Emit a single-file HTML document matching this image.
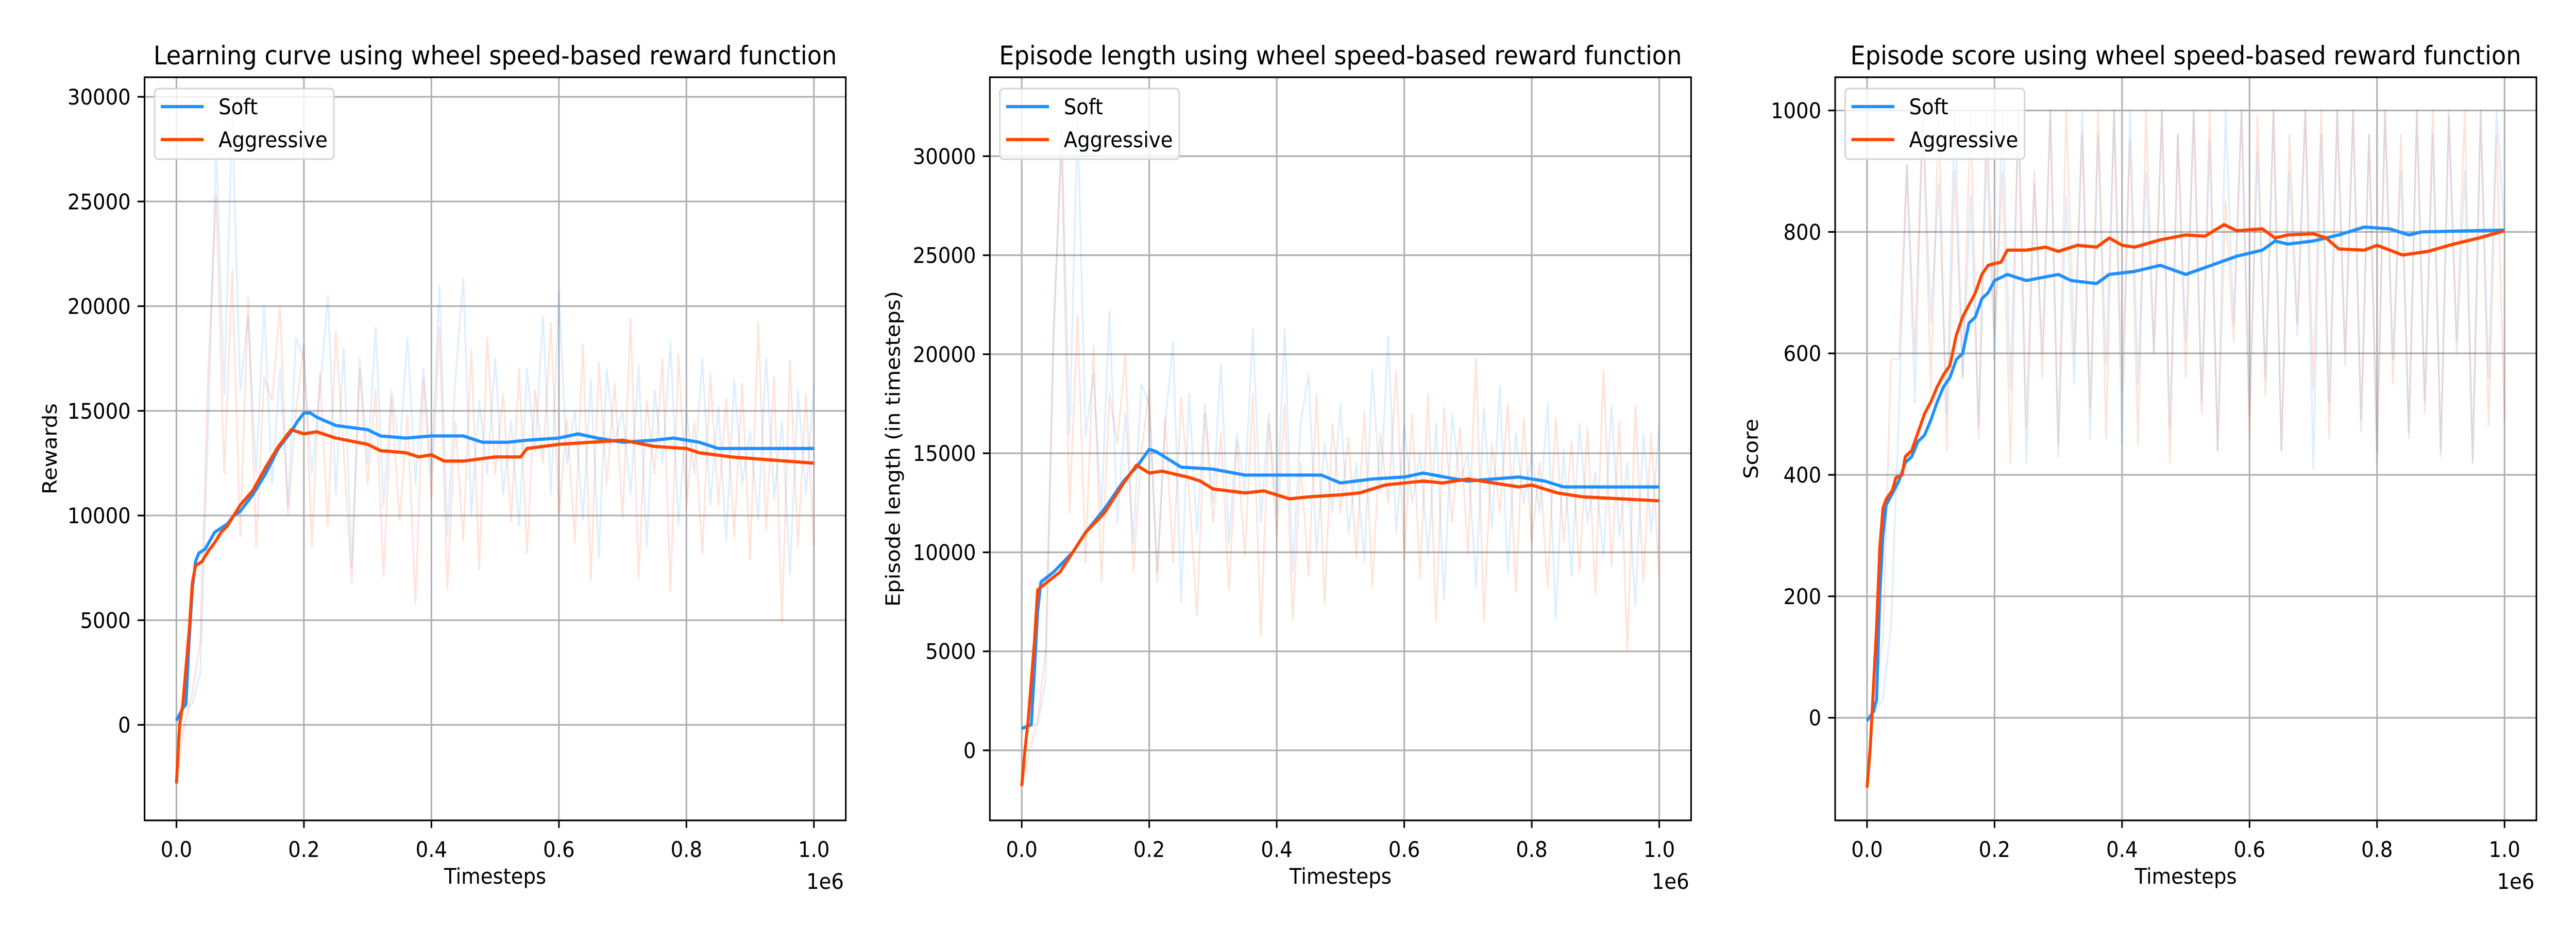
<!DOCTYPE html>
<html><head><meta charset="utf-8"><style>
html,body{margin:0;padding:0;background:#fff;width:100vw;height:100vh;overflow:hidden;}
svg{display:block;width:100vw;height:100vh;font-family:"DejaVu Sans","Liberation Sans",sans-serif;}
</style></head><body>
<svg id="fig" viewBox="0 0 5400 1800" preserveAspectRatio="none" xmlns="http://www.w3.org/2000/svg"></svg>
<script>
// ---------- data ----------
const xTickLabels = ["0.0","0.2","0.4","0.6","0.8","1.0"];
const xTickValues = [0,0.2,0.4,0.6,0.8,1.0];

const p1Titles = "Learning curve using wheel speed-based reward function";
const p2Titles = "Episode length using wheel speed-based reward function";
const p3Titles = "Episode score using wheel speed-based reward function";

const p1YTicks = [0,5000,10000,15000,20000,25000,30000];
const p2YTicks = [0,5000,10000,15000,20000,25000,30000];
const p3YTicks = [0,200,400,600,800,1000];

const p1SoftX = [0,0.01,0.015,0.02,0.025,0.03,0.035,0.045,0.06,0.08,0.09,0.1,0.12,0.14,0.16,0.18,0.19,0.2,0.21,0.22,0.25,0.3,0.32,0.36,0.4,0.45,0.48,0.52,0.55,0.6,0.63,0.66,0.7,0.75,0.78,0.82,0.85,1.0];
const p1SoftY = [200,800,1000,4000,6500,7800,8200,8400,9200,9600,10000,10200,11000,12000,13200,14000,14500,14900,14900,14700,14300,14100,13800,13700,13800,13800,13500,13500,13600,13700,13900,13700,13500,13600,13700,13500,13200,13200];
const p1AggX = [0,0.005,0.01,0.02,0.025,0.03,0.04,0.05,0.06,0.07,0.08,0.09,0.1,0.12,0.14,0.16,0.18,0.2,0.22,0.25,0.3,0.32,0.36,0.38,0.4,0.42,0.45,0.5,0.54,0.55,0.6,0.65,0.7,0.75,0.8,0.82,0.87,1.0];
const p1AggY = [-2800,0,1000,4500,6800,7600,7800,8300,8700,9200,9500,10000,10500,11200,12300,13300,14100,13900,14000,13700,13400,13100,13000,12800,12900,12600,12600,12800,12800,13200,13400,13500,13600,13300,13200,13000,12800,12500];

const p2SoftX = [0,0.015,0.02,0.025,0.03,0.05,0.08,0.1,0.13,0.16,0.18,0.2,0.21,0.25,0.3,0.35,0.4,0.47,0.5,0.55,0.6,0.63,0.68,0.7,0.78,0.82,0.85,1.0];
const p2SoftY = [1100,1300,4000,7000,8500,9000,10000,11000,12200,13600,14300,15200,15100,14300,14200,13900,13900,13900,13500,13700,13800,14000,13700,13600,13800,13600,13300,13300];
const p2AggX = [0,0.005,0.01,0.02,0.025,0.04,0.06,0.08,0.1,0.13,0.16,0.18,0.2,0.22,0.26,0.28,0.3,0.35,0.38,0.42,0.45,0.5,0.53,0.57,0.6,0.63,0.66,0.7,0.74,0.78,0.8,0.84,0.88,1.0];
const p2AggY = [-1800,0,1500,5500,8100,8500,9000,10000,11000,12000,13500,14400,14000,14100,13800,13600,13200,13000,13100,12700,12800,12900,13000,13400,13500,13600,13500,13700,13500,13300,13400,13000,12800,12600];

const p3SoftX = [0,0.01,0.015,0.02,0.025,0.03,0.04,0.05,0.06,0.07,0.08,0.09,0.1,0.11,0.12,0.13,0.14,0.15,0.16,0.17,0.18,0.19,0.2,0.22,0.25,0.3,0.32,0.36,0.38,0.42,0.46,0.5,0.54,0.58,0.62,0.64,0.66,0.7,0.74,0.78,0.82,0.85,0.87,1.0];
const p3SoftY = [-5,10,30,200,300,350,370,390,420,430,455,465,490,520,545,560,590,600,650,660,690,700,720,730,720,730,720,715,730,735,745,730,745,760,770,785,780,785,795,808,805,795,800,803];
const p3AggX = [0,0.005,0.01,0.015,0.02,0.025,0.03,0.04,0.045,0.055,0.06,0.07,0.08,0.09,0.1,0.11,0.12,0.13,0.14,0.15,0.16,0.17,0.18,0.19,0.2,0.21,0.22,0.25,0.28,0.3,0.33,0.36,0.38,0.4,0.42,0.46,0.5,0.53,0.56,0.58,0.62,0.64,0.66,0.7,0.72,0.74,0.78,0.8,0.84,0.88,0.92,0.96,1.0];
const p3AggY = [-115,-50,50,150,280,345,360,375,395,400,430,440,470,500,520,545,565,580,630,660,680,700,730,745,748,750,770,770,775,768,778,775,790,778,775,787,795,793,812,802,805,790,795,797,790,772,770,778,762,768,780,790,802];

const p1SoftRaw = [200,800,1000,2500,14500,27500,15800,29000,16000,19500,12000,20000,11500,17000,10500,18500,17500,12000,16000,20500,11000,18000,7500,17500,12500,19000,10500,16000,13000,18500,11500,17000,12000,21000,9000,16500,21300,10000,15500,12000,17500,11000,14500,9500,17000,13000,19500,11000,20700,12500,15000,9800,16500,8000,17000,13500,15000,11000,17200,8500,16000,12500,18300,9500,15000,12000,17500,10500,15200,8800,16500,11500,14000,9800,17500,10800,14500,7200,16000,11000,16300];
const p1AggRaw = [-2800,0,1500,4000,17000,25300,12000,21700,9000,20400,8500,16600,15500,20000,10000,15000,18200,8500,16800,9500,18800,13000,6800,17000,11500,16000,7100,15600,9800,14800,5800,16500,10800,19000,6500,14500,8800,17900,7400,18500,12000,15800,9700,17000,8200,16000,12500,19200,10000,14600,8700,18200,6900,17300,11500,16300,9900,19400,7000,15500,12000,17500,6400,17700,10500,14500,8200,16800,10500,15600,9000,16300,7900,19200,9300,16600,4900,17400,8500,15800,8500];
const p2SoftRaw = [1100,1200,1300,3500,20500,31600,16000,32000,15900,19000,12000,22200,11500,17000,10500,18500,17500,9000,16500,20600,7500,18000,11000,17500,12500,19500,10500,16000,13000,21300,11500,17000,12000,21300,9000,16500,19000,10000,15500,12000,17500,11000,14500,9500,19200,13000,20900,11000,16500,12500,15000,9800,16500,7600,17000,13500,15000,8300,17300,11200,18400,9000,16000,12500,15000,12000,17500,6600,15200,8800,16500,11500,14000,9800,17400,10800,14500,7300,16000,11000,16400];
const p2AggRaw = [-1800,0,1500,5000,21500,30500,12000,22000,9500,20400,8500,18000,15500,20000,9000,15000,18200,8500,16800,9500,17800,13000,6800,17000,11500,16000,8100,15600,9800,18000,5800,16500,10800,17500,6600,14500,8800,18000,7400,16500,12000,15800,9700,17100,8200,16000,12500,19200,9700,17000,8700,18000,6500,17300,11500,16300,9900,19800,6500,15500,12000,17500,8000,16800,10500,14500,8200,16800,10500,15600,9000,16300,7900,19200,9300,16600,5000,17400,8500,16000,8700];
const p3SoftRaw = [-5,10,30,150,500,910,520,1000,650,880,500,1000,560,860,480,930,590,1000,540,1000,420,880,600,1000,430,860,550,1000,460,960,580,1000,450,1000,550,900,600,1000,480,960,620,1000,520,950,440,1000,650,1000,500,930,560,1000,440,900,630,1000,410,960,520,1000,600,1000,470,960,420,1000,590,900,460,1000,520,960,440,1000,600,900,420,1000,560,1000,800];
const p3AggRaw = [-115,50,130,590,590,910,600,1000,540,1000,440,900,560,1000,460,1000,630,900,420,1000,480,900,560,1000,450,1000,600,960,510,1000,460,1000,540,950,450,1000,600,1000,420,960,560,1000,500,1000,440,850,620,1000,460,990,530,1000,440,960,650,1000,540,1000,460,1000,580,1000,490,960,440,1000,550,960,470,1000,500,1000,430,990,620,1000,420,1000,480,960,490];

// ---------- drawing ----------
const NS = "http://www.w3.org/2000/svg";
const svg = document.getElementById("fig");
function mk(tag, attrs, parent){ const e=document.createElementNS(NS,tag); for(const k in attrs) e.setAttribute(k,attrs[k]); (parent||svg).appendChild(e); return e; }

const TOP=150, BOT=1593;
const panels = [
  {key:"rewards", left:303, right:1773, ymin:-4563, ymax:30935, yticks:p1YTicks, title:p1Titles, ylabel:"Rewards", ylabelX:105,
   softX:p1SoftX, softY:p1SoftY, aggX:p1AggX, aggY:p1AggY, softRaw:p1SoftRaw, aggRaw:p1AggRaw},
  {key:"episode-length", left:2075, right:3545, ymin:-3536, ymax:33986, yticks:p2YTicks, title:p2Titles, ylabel:"Episode length (in timesteps)", ylabelX:1872,
   softX:p2SoftX, softY:p2SoftY, aggX:p2AggX, aggY:p2AggY, softRaw:p2SoftRaw, aggRaw:p2AggRaw},
  {key:"score", left:3847, right:5317, ymin:-169, ymax:1054.7, yticks:p3YTicks, title:p3Titles, ylabel:"Score", ylabelX:3671,
   softX:p3SoftX, softY:p3SoftY, aggX:p3AggX, aggY:p3AggY, softRaw:p3SoftRaw, aggRaw:p3AggRaw}
];
const SOFT="#1e90ff", AGG="#ff4500";

panels.forEach(p=>{
  const g = mk("g",{});
  
  
  const xs = v => p.left + (v+0.05)/1.1*(p.right-p.left);
  const ys = v => BOT - (v-p.ymin)/(p.ymax-p.ymin)*(BOT-TOP);
  const cid="clip-"+p.key;
  const cp = mk("clipPath",{id:cid},g);
  mk("rect",{x:p.left,y:TOP,width:p.right-p.left,height:BOT-TOP},cp);
  const grid = mk("g",{stroke:"#b0b0b0","stroke-width":3.3},g);
  
  
  xTickValues.forEach(v=>mk("line",{x1:xs(v),x2:xs(v),y1:TOP,y2:BOT},grid));
  p.yticks.forEach(v=>mk("line",{x1:p.left,x2:p.right,y1:ys(v),y2:ys(v)},grid));
  const plot = mk("g",{"clip-path":"url(#"+cid+")"},g);
  function poly(X,Y,color,w,op,name){
    const pts = X.map((x,i)=>xs(x).toFixed(1)+","+ys(Y[i]).toFixed(1)).join(" ");
    const l = mk("polyline",{points:pts,fill:"none",stroke:color,"stroke-width":w,"stroke-opacity":op,"stroke-linejoin":"round"},plot);
    
    
  }
  const rx = arr => arr.map((_,i)=>i/(arr.length-1));
  poly(rx(p.softRaw),p.softRaw,SOFT,3.5,0.15,p.key+'-soft-raw-line');
  poly(rx(p.aggRaw),p.aggRaw,AGG,3.5,0.15,p.key+'-aggressive-raw-line');
  poly(p.softX,p.softY,SOFT,6.25,1,p.key+'-soft-line');
  poly(p.aggX,p.aggY,AGG,6.25,1,p.key+'-aggressive-line');
  const sp = mk("rect",{x:p.left,y:TOP,width:p.right-p.left,height:BOT-TOP,fill:"none",stroke:"#000","stroke-width":3.3},g);
  
  
  const xt = mk("g",{},g);
  
  
  xTickValues.forEach((v,i)=>{
    mk("line",{x1:xs(v),x2:xs(v),y1:BOT,y2:BOT+14.6,stroke:"#000","stroke-width":3.3},xt);
    const t = mk("text",{x:xs(v),y:1664,"font-size":41.7,"text-anchor":"middle",fill:"#000"},xt);
    t.textContent = xTickLabels[i];
    
    
  });
  const xl = mk("text",{x:(p.left+p.right)/2,y:1716,"font-size":41.7,"text-anchor":"middle"},g);
  xl.textContent="Timesteps";
  
  
  const off = mk("text",{x:p.right-4,y:1726,"font-size":41.7,"text-anchor":"end"},g);
  off.textContent="1e6";
  
  
  const yt = mk("g",{},g);
  
  
  p.yticks.forEach(v=>{
    mk("line",{x1:p.left-14.6,x2:p.left,y1:ys(v),y2:ys(v),stroke:"#000","stroke-width":3.3},yt);
    const t = mk("text",{x:p.left-29,y:ys(v)+15,"font-size":41.7,"text-anchor":"end"},yt);
    t.textContent = String(v);
    
    
  });
  const yl = mk("text",{x:0,y:0,"font-size":41.7,"text-anchor":"middle",transform:"translate("+(p.ylabelX+14)+","+((TOP+BOT)/2)+") rotate(-90)"},g);
  yl.textContent=p.ylabel;
  
  
  const tt = mk("text",{x:(p.left+p.right)/2,y:125,"font-size":50,"text-anchor":"middle"},g);
  tt.textContent=p.title;
  
  
  const lg = mk("g",{},g);
  
  
  const L = p.left+21;
  mk("rect",{x:L,y:172,width:376,height:137,rx:8,fill:"#fff","fill-opacity":0.8,stroke:"#d6d6d6","stroke-width":3.3},lg);
  [["Soft",SOFT,207],["Aggressive",AGG,271]].forEach(e=>{
    const eg = mk("g",{},lg);
    
    
    mk("line",{x1:L+13,x2:L+103,y1:e[2],y2:e[2],stroke:e[1],"stroke-width":6.25},eg);
    const t = mk("text",{x:L+134,y:e[2]+15,"font-size":41.7},eg);
    t.textContent=e[0];
  });
});
</script>
</body></html>
